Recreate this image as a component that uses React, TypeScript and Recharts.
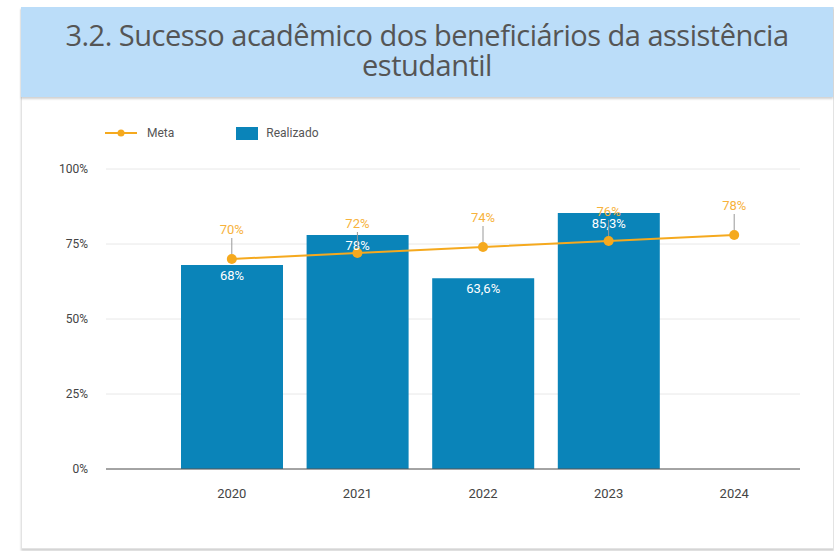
import React from 'react';
import { ComposedChart, Bar, Line, XAxis, YAxis, CartesianGrid, LabelList } from 'recharts';

const years = ['2020', '2021', '2022', '2023', '2024'];
const meta = [70, 72, 74, 76, 78];
const realizado: (number | null)[] = [68, 78, 63.6, 85.3, null];
const yTicks = [0, 25, 50, 75, 100];

const data = years.map((y, i) => ({ year: y, meta: meta[i], realizado: realizado[i] }));

const LINE_COLOR = '#F5A91E';
const LABEL_COLOR = '#F7B23B';
const BAR_COLOR = '#0A84B9';
const FONT = 'Roboto, "Open Sans", sans-serif';

const fmt = (v: any) => {
  if (v === null || v === undefined) return '';
  return String(v).replace('.', ',') + '%';
};

const MetaLabel = (props: any) => {
  const { x, y, value } = props;
  if (value === null || value === undefined) return null;
  return (
    <g>
      <line x1={x} x2={x} y1={y - 5} y2={y - 21} stroke="#999" strokeWidth={1} />
      <text x={x} y={y - 25} textAnchor="middle" fill={LABEL_COLOR} fontSize={13} fontFamily={FONT}>
        {fmt(value)}
      </text>
    </g>
  );
};

export default function App() {
  return (
    <div style={{ position: 'absolute', left: 0, top: 0, width: 834, height: 551, background: '#fff', overflow: 'hidden' }}>
      <div
        style={{
          position: 'absolute',
          left: 21,
          top: 7,
          width: 811,
          height: 540,
          border: '1px solid #e3e3e3',
          boxShadow: '0 2px 2px rgba(0,0,0,0.18)',
          background: '#fff',
        }}
      />
      <div
        style={{
          position: 'absolute',
          left: 21,
          top: 7,
          width: 812,
          height: 90,
          background: '#BBDDF9',
          boxShadow: '0 2px 2px rgba(0,0,0,0.18)',
          display: 'flex',
          alignItems: 'center',
          justifyContent: 'center',
          textAlign: 'center',
          fontFamily: '"Open Sans", sans-serif',
          fontSize: 29,
          letterSpacing: -0.5,
          lineHeight: '30px',
          color: '#555',
          boxSizing: 'border-box',
          paddingBottom: 4,
        }}
      >
        <div>
          3.2. Sucesso acadêmico dos beneficiários da assistência
          <br />
          estudantil
        </div>
      </div>
      <div
        style={{
          position: 'absolute',
          top: 126,
          left: 105,
          display: 'flex',
          alignItems: 'center',
          fontFamily: FONT,
          fontSize: 12,
          color: '#555',
          height: 14,
        }}
      >
        <svg width={32} height={14} style={{ marginRight: 10 }}>
          <line x1={0} x2={32} y1={7} y2={7} stroke={LINE_COLOR} strokeWidth={2} />
          <circle cx={16} cy={7} r={3.5} fill={LINE_COLOR} />
        </svg>
        <span style={{ marginRight: 62 }}>Meta</span>
        <div style={{ width: 22, height: 13, background: BAR_COLOR, marginRight: 8 }} />
        <span>Realizado</span>
      </div>
      <div style={{ position: 'absolute', left: 0, top: 0 }}>
        <ComposedChart width={834} height={551} data={data} margin={{ top: 169, right: 34, bottom: 52, left: 46 }}>
          <CartesianGrid vertical={false} stroke="#e8e8e8" />
          <XAxis
            dataKey="year"
            padding={{ left: 63, right: 3 }}
            tickLine={false}
            axisLine={{ stroke: '#555', strokeWidth: 1 }}
            tick={{ fill: '#444', fontSize: 13, fontFamily: FONT }}
            tickMargin={14}
          />
          <YAxis
            domain={[0, 100]}
            ticks={yTicks}
            tickFormatter={(v: number) => v + '%'}
            axisLine={false}
            tickLine={false}
            tickSize={0}
            tickMargin={18}
            width={60}
            tick={{ fill: '#444', fontSize: 12, fontFamily: FONT }}
          />
          <Bar dataKey="realizado" fill={BAR_COLOR} barSize={102} isAnimationActive={false}>
            <LabelList
              dataKey="realizado"
              position="insideTop"
              offset={6}
              fill="#fff"
              fontSize={13}
              fontFamily={FONT}
              formatter={fmt}
            />
          </Bar>
          <Line
            dataKey="meta"
            stroke={LINE_COLOR}
            strokeWidth={2}
            dot={{ r: 5, fill: LINE_COLOR, stroke: LINE_COLOR, strokeWidth: 0 }}
            activeDot={false}
            isAnimationActive={false}
          >
            <LabelList dataKey="meta" content={<MetaLabel />} />
          </Line>
        </ComposedChart>
      </div>
    </div>
  );
}
